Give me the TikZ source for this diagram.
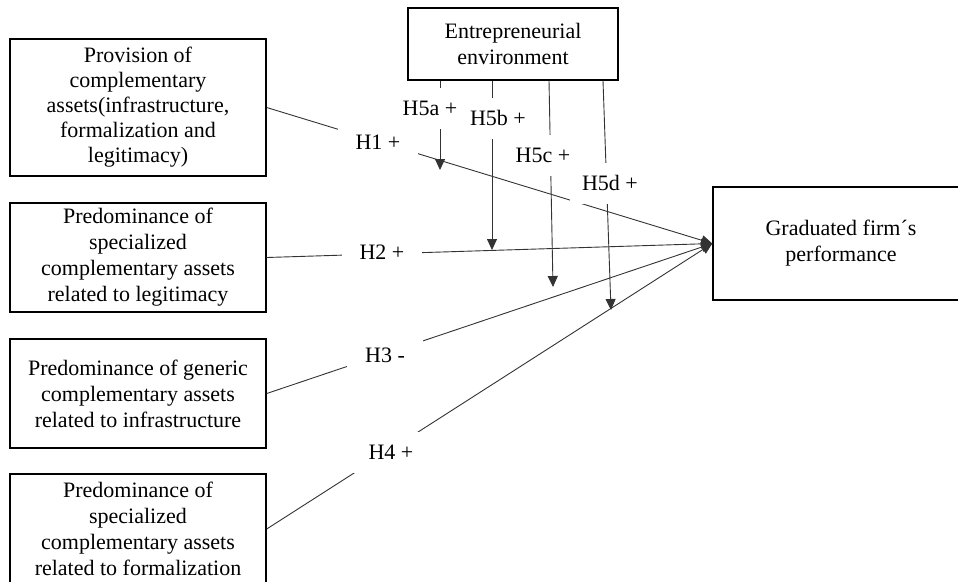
\documentclass[tikz,border=0pt]{standalone}
\usepackage{fontspec}
\setmainfont{Liberation Serif}
\usetikzlibrary{arrows.meta}
\begin{document}
\begin{tikzpicture}[x=1pt,y=-1pt,
  txt/.style={font=\fontsize{22}{26}\selectfont},
  box/.style={txt,draw=black,line width=1.4pt,fill=white,inner sep=0pt,align=center,minimum width=256pt},
  link/.style={draw=black!80,line width=0.9pt,-{Triangle[width=10pt,length=11pt]}},
  hyp/.style={txt,fill=white,inner xsep=18pt,inner ysep=0pt,minimum height=41pt},
  modhyp/.style={hyp,inner xsep=12pt}]
\useasboundingbox (0,0) rectangle (958,581);

% constructs
\node[box,minimum height=137pt,font=\fontsize{22}{25}\selectfont] (pca) at (138,107.5)
  {Provision of\\complementary\\assets(infrastructure,\\formalization and\\legitimacy)};
\node[box,minimum height=109pt] (leg) at (138,257.5)
  {Predominance of\\specialized\\complementary assets\\related to legitimacy};
\node[box,minimum height=109pt] (inf) at (138,393.5)
  {Predominance of generic\\complementary assets\\related to infrastructure};
\node[box,minimum height=110pt] (frm) at (138,529)
  {Predominance of\\specialized\\complementary assets\\related to formalization};
\node[box,minimum width=210pt,minimum height=72pt] (env) at (513,44)
  {Entrepreneurial\\environment};
\node[box,minimum height=113pt] (perf) at (841,243.5)
  {Graduated firm\textasciiacute s\\performance};

% moderation end points
\path (env.south) ++(-73,0) coordinate (sa) ++(52,0) coordinate (sb)
      ++(57,0) coordinate (sc) ++(54,0) coordinate (sd);
\coordinate (ta) at (440,170);
\coordinate (tb) at (492,250);
\coordinate (tc) at (553,287);
\coordinate (td) at (611,310);

% direct effects
\draw[link] (pca.east) -- (perf.west);
\draw[link] (leg.east) -- (perf.west);
\draw[link] (inf.east) -- (perf.west);
\draw[link] (frm.east) -- (perf.west);

% moderating effects
\draw[link] (sa) -- (ta);
\draw[link] (sb) -- (tb);
\draw[link] (sc) -- (tc);
\draw[link] (sd) -- (td);

% hypothesis labels
\node[hyp] (h1) at (378,142) {H1 +};
\node[hyp] (h2) at (382,252) {H2 +};
\node[hyp] (h3) at (385,355) {H3 -};
\node[hyp] (h4) at (391,452) {H4 +};
\node[modhyp] (h5d) at (610,183) {H5d +};
\node[modhyp] (h5c) at (543,155) {H5c +};
\node[modhyp] (h5b) at (498,118) {H5b +};
\node[modhyp] (h5a) at (430,108) {H5a +};
\end{tikzpicture}
\end{document}
